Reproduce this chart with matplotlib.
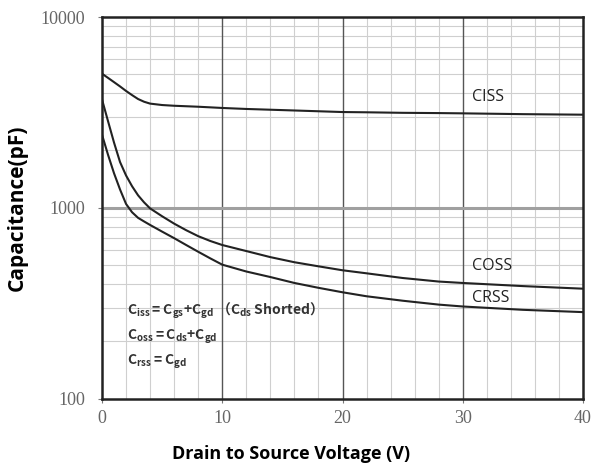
import numpy as np
import matplotlib.pyplot as plt
from matplotlib.ticker import FixedLocator, NullFormatter

# values
vds = [0, 0.5, 1, 1.5, 2, 2.5, 3, 3.5, 4, 5, 6, 7, 8, 9, 10, 12, 14, 16, 18, 20, 22, 25, 28, 30, 35, 40]
ciss = [5050, 4800, 4560, 4330, 4100, 3900, 3720, 3600, 3520, 3460, 3430, 3410, 3390, 3365, 3340,
        3300, 3270, 3240, 3210, 3180, 3170, 3150, 3140, 3130, 3100, 3080]
coss = [3700, 2850, 2200, 1740, 1480, 1300, 1165, 1070, 995, 905, 828, 765, 712, 672, 640,
        595, 553, 520, 495, 472, 455, 430, 412, 405, 390, 378]
crss = [2420, 1900, 1520, 1250, 1050, 950, 888, 850, 815, 752, 695, 640, 590, 545, 505,
        465, 435, 405, 382, 362, 345, 327, 312, 305, 293, 285]

x_ticks = [0, 10, 20, 30, 40]
y_ticks = [100, 1000, 10000]

fig = plt.figure(figsize=(5.92, 4.71), dpi=100)
ax = fig.add_axes([0.1723, 0.1529, 0.8125, 0.811])

# grid
minor_x = [v for v in range(2, 40, 2) if v % 10 != 0]
minor_y = [m * 10**e for e in (2, 3) for m in range(2, 10)]
for v in minor_x:
    ax.axvline(v, color='#cfcfcf', lw=0.8, zorder=1)
for c in minor_y:
    ax.axhline(c, color='#cfcfcf', lw=0.8, zorder=1)
for v in [10, 20, 30]:
    ax.axvline(v, color='#555555', lw=1.0, zorder=2)
ax.axhline(1000, color='#a0a0a0', lw=2.2, zorder=2)

ax.plot(vds, ciss, color='#222222', lw=1.5, zorder=3)
ax.plot(vds, coss, color='#222222', lw=1.5, zorder=3)
ax.plot(vds, crss, color='#222222', lw=1.5, zorder=3)

ax.set_yscale('log')
ax.set_xlim(0, 40)
ax.set_ylim(100, 10000)
ax.xaxis.set_major_locator(FixedLocator(x_ticks))
ax.yaxis.set_major_locator(FixedLocator(y_ticks))
ax.yaxis.set_minor_locator(FixedLocator([]))
ax.yaxis.set_minor_formatter(NullFormatter())
ax.set_xticklabels([str(v) for v in x_ticks])
ax.set_yticklabels([str(v) for v in y_ticks])
ax.tick_params(axis='both', length=3, width=0.8, colors='#777777', labelsize=13)
ax.tick_params(axis='x', pad=5)
ax.tick_params(axis='y', pad=9)
for lab in ax.get_xticklabels() + ax.get_yticklabels():
    lab.set_family('Liberation Serif')
    lab.set_color('#666666')

for s in ax.spines.values():
    s.set_linewidth(1.8)
    s.set_color('#222222')

# curve labels
ax.text(30.8, 3810, 'CISS', fontsize=11.5, family='Open Sans', va='center', color='#222222')
ax.text(30.8, 497, 'COSS', fontsize=11.5, family='Open Sans', va='center', color='#222222')
ax.text(30.8, 338, 'CRSS', fontsize=11.5, family='Open Sans', va='center', color='#222222')

# formulas
fkw = dict(fontsize=10, family='Noto Sans CJK JP', fontweight='bold', va='center', color='#333333')
ax.text(2.1, 290, r'$\mathregular{C_{iss}{=}C_{gs}{+}C_{gd}}$ （$\mathregular{C_{ds}}$ Shorted）', **fkw)
ax.text(2.1, 211, r'$\mathregular{C_{oss}{=}C_{ds}{+}C_{gd}}$', **fkw)
ax.text(2.1, 156, r'$\mathregular{C_{rss}{=}C_{gd}}$', **fkw)

ax.set_xlabel('Drain to Source Voltage (V)', fontsize=13, fontweight='bold',
              family='Open Sans')
ax.xaxis.set_label_coords(0.393, -0.12)
ax.set_ylabel('Capacitance(pF)', fontsize=15, fontweight='bold',
              family='Open Sans')
ax.yaxis.set_label_coords(-0.154, 0.5)

fig.savefig('out.png', dpi=100)
